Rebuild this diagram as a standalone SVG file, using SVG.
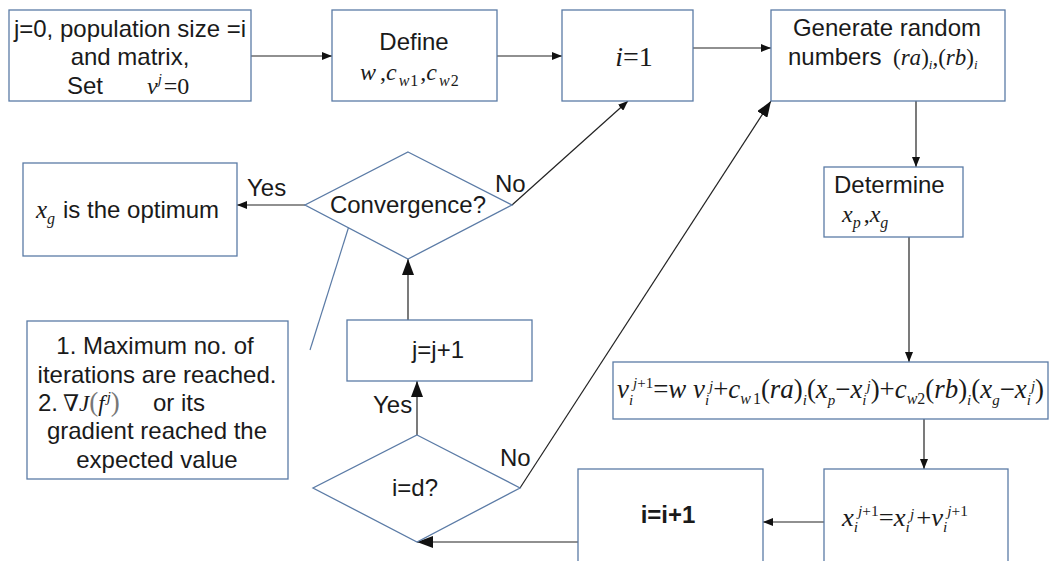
<svg xmlns="http://www.w3.org/2000/svg" width="1049" height="561" viewBox="0 0 1049 561">
<style>
.box{fill:#fff;stroke:#5b7ba6;stroke-width:1.3}
.t{font-family:"Liberation Sans",Arial,sans-serif;font-size:24px;fill:#1a1a1a}
.m{font-family:"Liberation Serif","DejaVu Serif",serif;font-style:italic;fill:#1a1a1a}
.u{font-style:normal}
.c{stroke:#222;stroke-width:1.2;fill:none}
.ann{stroke:#5b7ba6;stroke-width:1.2;fill:none}
</style>
<defs>
<marker id="s" markerUnits="userSpaceOnUse" markerWidth="10" markerHeight="8" refX="10" refY="4" orient="auto"><path d="M0,0 L10,4 L0,8 z" fill="#111"/></marker>
<marker id="b" markerUnits="userSpaceOnUse" markerWidth="16" markerHeight="12" refX="16" refY="6" orient="auto"><path d="M0,0 L16,6 L0,12 z" fill="#111"/></marker>
</defs>
<rect width="1049" height="561" fill="#fff"/>

<g id="connectors">
<line class="c" x1="251" y1="56" x2="332" y2="56" marker-end="url(#s)"/>
<line class="c" x1="497" y1="56" x2="562" y2="56" marker-end="url(#s)"/>
<line class="c" x1="693" y1="48" x2="771" y2="48" marker-end="url(#s)"/>
<line class="c" x1="916" y1="101" x2="916" y2="167" marker-end="url(#s)"/>
<line class="c" x1="909" y1="237" x2="909" y2="362" marker-end="url(#s)"/>
<line class="c" x1="924" y1="419" x2="924" y2="469" marker-end="url(#s)"/>
<line class="c" x1="824" y1="522" x2="763" y2="522" marker-end="url(#s)"/>
<line class="c" x1="578" y1="542" x2="417" y2="542" marker-end="url(#b)"/>
<line class="c" x1="417" y1="435" x2="417" y2="381" marker-end="url(#b)"/>
<line class="c" x1="408" y1="320" x2="408" y2="259" marker-end="url(#b)"/>
<line class="c" x1="520" y1="488" x2="771" y2="101" marker-end="url(#b)"/>
<line class="c" x1="512" y1="205" x2="628" y2="101" marker-end="url(#s)"/>
<line class="c" x1="305" y1="205" x2="237" y2="205" marker-end="url(#s)"/>
<line class="ann" x1="349" y1="226" x2="310" y2="350"/>
<text class="t" x="247" y="196" font-size="22.5">Yes</text>
<text class="t" x="495" y="192" font-size="23.5">No</text>
<text class="t" x="373" y="413" font-size="22.5">Yes</text>
<text class="t" x="500" y="466" font-size="23.5">No</text>
</g>

<g id="init">
<rect class="box" x="9" y="10" width="242" height="91"/>
<text class="t" x="130" y="37" text-anchor="middle">j=0, population size =i</text>
<text class="t" x="130" y="65" text-anchor="middle">and matrix,</text>
<text class="t" x="67" y="94">Set</text>
<text class="m" x="147" y="94" font-size="24">v<tspan font-size="15" dy="-10">j</tspan><tspan class="u" dy="10" dx="2">=0</tspan></text>
</g>

<g id="define">
<rect class="box" x="332" y="10" width="165" height="91"/>
<text class="t" x="414" y="50" font-size="25" text-anchor="middle">Define</text>
<text class="m" x="360" y="80" font-size="24">w<tspan class="u" dx="4">,</tspan>c<tspan font-size="16" dy="6" dx="2">w</tspan><tspan class="u" font-size="16" dx="1">1</tspan><tspan class="u" dy="-6" dx="2">,</tspan>c<tspan font-size="16" dy="6" dx="2">w</tspan><tspan class="u" font-size="16" dx="1">2</tspan></text>
</g>

<g id="i1">
<rect class="box" x="562" y="10" width="131" height="91"/>
<text class="m" x="634" y="66" font-size="28" text-anchor="middle">i<tspan class="u">=1</tspan></text>
</g>

<g id="generate">
<rect class="box" x="771" y="10" width="234" height="91"/>
<text class="t" x="887" y="36" text-anchor="middle">Generate random</text>
<text class="t" x="788" y="65">numbers</text>
<text class="m" x="893" y="65" font-size="23" fill="#444"><tspan class="u">(</tspan>ra<tspan class="u">)</tspan><tspan font-size="13" dy="4">i</tspan><tspan class="u" dy="-4">,(</tspan>rb<tspan class="u">)</tspan><tspan font-size="13" dy="4">i</tspan></text>
</g>

<g id="determine">
<rect class="box" x="824" y="167" width="139" height="70"/>
<text class="t" x="834" y="193" font-size="25">Determine</text>
<text class="m" x="842" y="222" font-size="24">x<tspan font-size="16" dy="6">p</tspan><tspan class="u" dy="-6" dx="3">,</tspan>x<tspan font-size="16" dy="6">g</tspan></text>
</g>

<g id="velocity">
<rect class="box" x="613" y="362" width="435" height="57"/>
<text class="m" x="617" y="398" font-size="27" textLength="427" lengthAdjust="spacingAndGlyphs">v<tspan font-size="15" dy="7">i</tspan><tspan font-size="15" dy="-17">j</tspan><tspan class="u" font-size="15">+1</tspan><tspan class="u" dy="10">=</tspan>w v<tspan font-size="15" dy="7">i</tspan><tspan font-size="15" dy="-14">j</tspan><tspan class="u" dy="7">+</tspan>c<tspan font-size="16" dy="6">w</tspan><tspan class="u" font-size="16" dx="2">1</tspan><tspan class="u" dy="-6">(</tspan>ra<tspan class="u">)</tspan><tspan font-size="15" dy="7">i</tspan><tspan class="u" dy="-7">(</tspan>x<tspan font-size="15" dy="7">p</tspan><tspan class="u" dy="-7">−</tspan>x<tspan font-size="15" dy="7">i</tspan><tspan font-size="15" dy="-14">j</tspan><tspan class="u" dy="7">)+</tspan>c<tspan font-size="16" dy="6">w</tspan><tspan class="u" font-size="16">2</tspan><tspan class="u" dy="-6">(</tspan>rb<tspan class="u">)</tspan><tspan font-size="15" dy="7">i</tspan><tspan class="u" dy="-7">(</tspan>x<tspan font-size="15" dy="7">g</tspan><tspan class="u" dy="-7">−</tspan>x<tspan font-size="15" dy="7">i</tspan><tspan font-size="15" dy="-14">j</tspan><tspan class="u" dy="7">)</tspan></text>
</g>

<g id="position">
<rect class="box" x="824" y="469" width="184" height="100"/>
<text class="m" x="842" y="526" font-size="26" textLength="126" lengthAdjust="spacingAndGlyphs">x<tspan font-size="15" dy="6">i</tspan><tspan font-size="15" dy="-16">j</tspan><tspan class="u" font-size="15">+1</tspan><tspan class="u" dy="10">=</tspan>x<tspan font-size="15" dy="6">i</tspan><tspan font-size="15" dy="-13">j</tspan><tspan class="u" dy="7" dx="2">+</tspan>v<tspan font-size="15" dy="6">i</tspan><tspan font-size="15" dy="-16">j</tspan><tspan class="u" font-size="15">+1</tspan></text>
</g>

<g id="incr-i">
<rect class="box" x="578" y="469" width="185" height="100"/>
<text class="t" x="668" y="523" font-size="22" font-weight="bold" text-anchor="middle">i=i+1</text>
</g>

<g id="check-d">
<polygon class="box" points="417,435 520,488 417,542 313,488"/>
<text class="t" x="415" y="496" text-anchor="middle">i=d?</text>
</g>

<g id="incr-j">
<rect class="box" x="347" y="320" width="185" height="61"/>
<text class="t" x="438" y="358" font-size="23.5" text-anchor="middle">j=j+1</text>
</g>

<g id="convergence">
<polygon class="box" points="408,152 512,205 408,259 305,205"/>
<text class="t" x="408" y="213" font-size="23.5" text-anchor="middle">Convergence?</text>
</g>

<g id="optimum">
<rect class="box" x="23" y="163" width="214" height="93"/>
<text class="m" x="36" y="218" font-size="25">x<tspan font-size="16" dy="6">g</tspan></text>
<text class="t" x="63" y="218" font-size="25">is the optimum</text>
</g>

<g id="criteria">
<rect class="box" x="27" y="321" width="261" height="158"/>
<text class="t" x="155" y="354" font-size="25" text-anchor="middle">1. Maximum no. of</text>
<text class="t" x="157" y="383" font-size="25" text-anchor="middle">iterations are reached.</text>
<text class="t" x="38" y="411" font-size="25">2.</text>
<text class="m" x="63" y="411" font-size="23">∇J<tspan class="u" fill="#777" font-size="27">(</tspan>f<tspan font-size="15" dy="-9" dx="2">j</tspan><tspan class="u" fill="#777" font-size="27" dy="9">)</tspan></text>
<text class="t" x="153" y="411" font-size="25">or its</text>
<text class="t" x="157" y="439" font-size="25" text-anchor="middle">gradient reached the</text>
<text class="t" x="157" y="468" font-size="25" text-anchor="middle">expected value</text>
</g>
</svg>
